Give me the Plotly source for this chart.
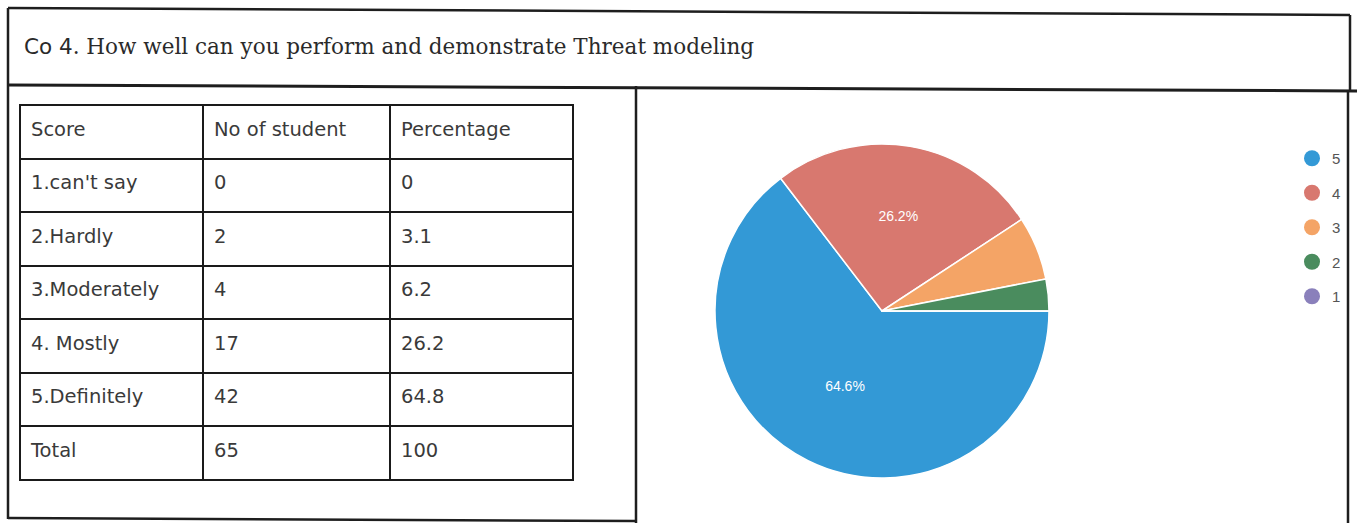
import plotly.graph_objects as go

# ---- data ----
title_text = "How well can you perform and demonstrate Threat modeling"
title_prefix = "Co 4"
score_labels = ["1.can't say", "2.Hardly", "3.Moderately", "4. Mostly", "5.Definitely", "Total"]
no_of_students = ["0", "2", "4", "17", "42", "65"]
percentages = ["0", "3.1", "6.2", "26.2", "64.8", "100"]
table_headers = ["Score", "No of student", "Percentage"]

pie_labels = ["5", "4", "3", "2", "1"]
pie_values = [42, 17, 4, 2, 0]
pie_colors = ["#3399d6", "#d8786f", "#f4a466", "#4a8c5e", "#8a80bb"]

W, H = 1357, 523

def px(x):
    return x / W

def py(y):
    return 1 - y / H

fig = go.Figure()

cell_font = dict(family="DejaVu Sans", size=19.5, color="#3a3a3a")
row_h = 53.5
columns = [score_labels, no_of_students, percentages]

# table grid (empty cells, draws the borders)
fig.add_trace(go.Table(
    domain=dict(x=[px(20), px(573)], y=[py(481), py(105)]),
    columnwidth=[183, 187, 183],
    header=dict(values=["" for _ in table_headers], align="left", height=row_h,
                line=dict(color="#1a1a1a", width=2), fill=dict(color="white"),
                font=cell_font),
    cells=dict(values=[["" for _ in col] for col in columns], align="left", height=row_h,
               line=dict(color="#1a1a1a", width=2), fill=dict(color="white"),
               font=cell_font),
    hoverinfo="skip",
))
# table text (slightly lower to sit in the middle of each cell)
fig.add_trace(go.Table(
    domain=dict(x=[px(23), px(576)], y=[py(489), py(113)]),
    columnwidth=[183, 187, 183],
    header=dict(values=table_headers, align="left", height=row_h,
                line=dict(color="rgba(0,0,0,0)", width=0), fill=dict(color="rgba(0,0,0,0)"),
                font=cell_font),
    cells=dict(values=columns, align="left", height=row_h,
               line=dict(color="rgba(0,0,0,0)", width=0), fill=dict(color="rgba(0,0,0,0)"),
               font=cell_font),
))

# pie
total = sum(pie_values)
pie_text = [f"{v / total * 100:.1f}%" if v / total >= 0.1 else "" for v in pie_values]
fig.add_trace(go.Pie(
    labels=pie_labels,
    values=pie_values,
    text=pie_text,
    textinfo="text",
    textposition="inside",
    insidetextorientation="horizontal",
    sort=False,
    direction="clockwise",
    rotation=90,
    marker=dict(colors=pie_colors, line=dict(color="white", width=1.5)),
    textfont=dict(family="Liberation Sans", size=14, color="white"),
    domain=dict(x=[px(882 - 167), px(882 + 167)], y=[py(478), py(144)]),
    showlegend=False,
    hoverinfo="label+percent",
))

# legend entries (circle markers)
for i, (lab, col) in enumerate(zip(pie_labels, pie_colors)):
    fig.add_trace(go.Scatter(
        x=[None], y=[None], mode="markers", name=lab,
        marker=dict(color=col, size=16, symbol="circle"),
        legendgroup=f"g{i}", showlegend=True,
    ))

# frame lines (document scan borders)
frame = [
    (8, 8, 1350, 15, 2.5),
    (8, 8, 8, 519, 2.5),
    (8, 85, 1357, 91, 3),
    (1350, 15, 1350, 91, 2.5),
    (1348, 91, 1348, 523, 2.5),
    (636, 86, 636, 523, 2.5),
    (8, 518, 636, 521, 2.5),
]
shapes = [dict(type="line", xref="paper", yref="paper",
               x0=px(a), y0=py(b), x1=px(c), y1=py(d),
               line=dict(color="#1e1e1e", width=w)) for a, b, c, d, w in frame]

fig.update_layout(
    width=W, height=H,
    margin=dict(l=0, r=0, t=0, b=0),
    paper_bgcolor="white",
    plot_bgcolor="white",
    shapes=shapes,
    xaxis=dict(visible=False),
    yaxis=dict(visible=False),
    showlegend=True,
    legend=dict(
        x=px(1292), y=py(142), xanchor="left", yanchor="top",
        font=dict(family="Liberation Sans", size=15, color="#555555"),
        tracegroupgap=12, itemwidth=30, bgcolor="rgba(0,0,0,0)",
    ),
    annotations=[dict(
        xref="paper", yref="paper", x=px(22), y=py(46),
        xanchor="left", yanchor="middle", showarrow=False,
        text=f'<span style="font-family:DejaVu Sans">{title_prefix}</span>. {title_text}',
        font=dict(family="DejaVu Serif", size=21.5, color="#2a2a2a"),
    )],
)

fig.write_html("out.html", config={"displayModeBar": False},
               post_script="document.body.style.margin='0';document.body.style.overflow='hidden';")
